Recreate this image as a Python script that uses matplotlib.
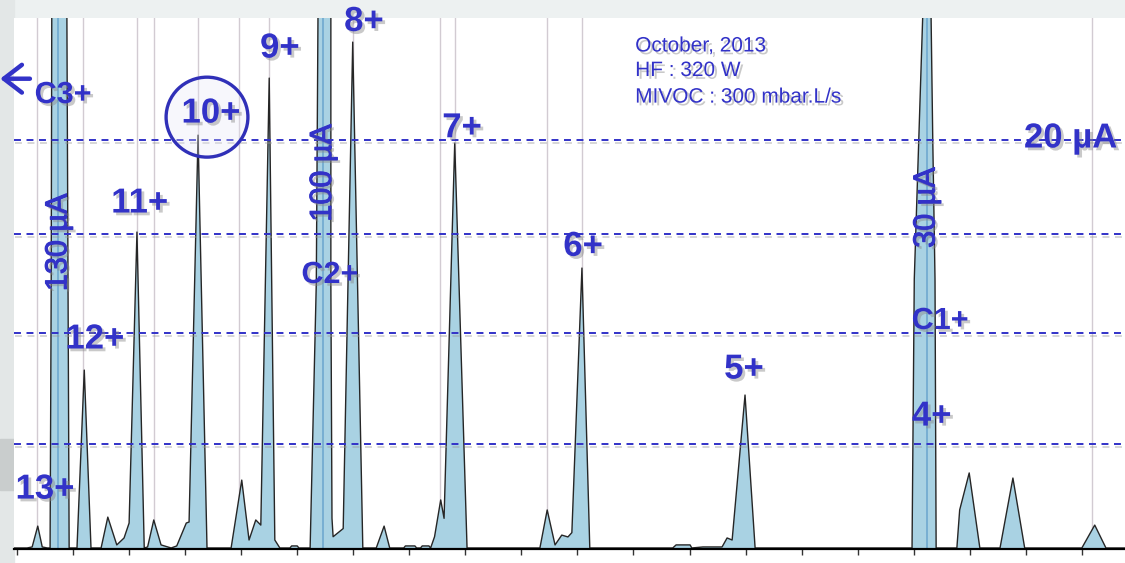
import matplotlib.pyplot as plt
import matplotlib.patches as mpatches
import matplotlib.patheffects as pe
import numpy as np

plt.rcParams['font.family'] = ['Liberation Sans', 'DejaVu Sans']
plt.rcParams['lines.scale_dashes'] = False

#------------- spectre (canal, courant en uA) ---------------------------
trace_x = [-0.5, 1.8, 2.7, 3.7, 4.5, 5.4,
           5.9, 6.1, 6.2, 7.4, 8.9, 9.1, 9.3,            # C3+
           10.7, 12.0, 13.2,                              # 12+
           15.0, 16.2, 17.8, 19.1, 20.0, 21.4, 22.7,      # 11+
           23.3, 24.4, 25.7, 27.5, 28.5, 30.2, 30.7, 32.3, 33.9,   # 10+
           38.2, 40.1, 41.4, 42.6, 43.5, 45.0, 46.0, 46.9,         # 9+
           48.7, 49.0, 50.0, 50.3, 52.3,
           53.4, 53.7, 54.6, 56.0, 56.0, 56.2, 56.4,      # C2+
           57.3, 58.2, 59.9, 61.7,                        # 8+
           64.1, 65.5, 66.5, 69.0, 69.3, 71.0, 71.3, 72.0, 72.3, 73.5,
           73.8, 74.5, 75.6, 76.2, 78.1, 80.3,            # 7+
           93.3, 94.6, 96.0, 97.2, 98.3, 99.0, 100.8, 102.2,       # 6+
           117.0, 117.6, 120.1, 120.4,
           122.4, 125.8, 126.7, 127.6, 129.9, 131.7,      # 5+
           159.7, 160.1, 160.9, 161.6, 162.3, 163.1, 163.4, 163.8, 164.0,  # C1+
           167.7, 168.2, 169.9, 171.8,
           175.4, 177.7, 179.8,
           190.0, 192.3, 194.3, 197.7]
trace_y = [0.05, 0.05, 0.1, 1.12, 0.1, 0.05,
           0.05, 13.0, 26.0, 130.0, 26.0, 13.0, 0.05,
           0.05, 8.75, 0.05,
           0.05, 1.56, 0.2, 0.54, 1.27, 15.5, 0.05,
           0.1, 1.42, 0.2, 0.05, 0.15, 1.27, 1.32, 20.24, 0.05,
           0.05, 3.37, 0.44, 1.42, 1.17, 23.03, 0.44, 0.05,
           0.05, 0.15, 0.15, 0.05, 0.05,
           13.0, 26.0, 100.0, 26.0, 13.0, 1.5, 0.6,
           0.8, 1.0, 24.79, 0.05,
           0.05, 1.12, 0.05, 0.05, 0.15, 0.15, 0.05, 0.05, 0.15, 0.15,
           0.05, 0.6, 2.4, 1.5, 19.85, 0.05,
           0.05, 1.91, 0.2, 0.68, 0.59, 0.8, 13.74, 0.05,
           0.05, 0.2, 0.2, 0.05,
           0.1, 0.1, 0.54, 0.44, 7.53, 0.05,
           0.05, 13.2, 20.0, 26.0, 30.0, 26.0, 20.0, 13.2, 0.05,
           0.05, 1.91, 3.72, 0.05,
           0.05, 3.47, 0.05,
           0.05, 1.17, 0.05, 0.05]

# pics hors echelle (centre, courant)
col_x = [7.4, 54.6, 162.3]
col_lab = ['130 µA', '100 µA', '30 µA']
col_lab_y = [15.0, 18.4, 16.7]

# lignes de repere
marker_x = [3.6, 11.8, 21.4, 24.4, 32.3, 39.6, 45.0, 59.9, 75.5, 78.1, 94.6, 100.8, 191.8]
levels = [20.0, 15.4, 10.56, 5.13]

# etiquettes des etats de charge
lab_txt = ['13+', '12+', '11+', '10+', '9+', '8+', '7+', '6+', '5+', '4+', 'C3+', 'C2+', 'C1+', '20 µA']
lab_x = [5.0, 13.9, 21.9, 34.6, 46.9, 61.9, 79.4, 101.0, 129.7, 163.2, 8.2, 55.8, 164.7, 188.0]
lab_y = [2.93, 10.27, 16.92, 21.32, 24.5, 25.8, 20.6, 14.8, 8.8, 6.5, 22.2, 13.4, 11.15, 20.1]
lab_size = [25, 25, 25, 25, 25, 25, 25, 25, 25, 25, 22, 22, 22, 25]

info = ['October, 2013', 'HF : 320 W', 'MIVOC : 300 mbar.L/s']
info_y = [24.6, 23.4, 22.1]

blue = '#3232c8'
shadow = [pe.SimplePatchShadow(offset=(2, -2), shadow_rgbFace='#888888', alpha=0.45), pe.Normal()]

#---------------------- figure -----------------------------------
fig = plt.figure(figsize=(11.25, 5.63), dpi=100)
fig.patch.set_facecolor('white')
fig.patches.append(mpatches.Rectangle((0, 0.968), 1, 0.032, transform=fig.transFigure, color='#edf1f1', zorder=-5))
fig.patches.append(mpatches.Rectangle((0, 0), 0.0125, 1, transform=fig.transFigure, color='#e3e7e7', zorder=-5))
fig.patches.append(mpatches.Rectangle((0, 0.13), 0.0125, 0.09, transform=fig.transFigure, color='#c9cdcd', zorder=-4))

ax = fig.add_axes([0.01244, 0.02487, 0.98756, 0.9432])
ax.set_xlim(-0.54, 197.7)
ax.set_ylim(0, 25.97)

for xm in marker_x:
    ax.axvline(xm, color='#d2cbd2', lw=1, zorder=1)

ax.fill_between(trace_x, 0, trace_y, color='#a9d2e3', zorder=2, lw=0)
ax.plot(trace_x, trace_y, color='#262626', lw=1.0, zorder=4)
for xc in col_x:
    ax.axvline(xc, color='#6fa8cf', lw=1.2, zorder=3)

for lv in levels:
    ax.axhline(lv, color=blue, lw=1.4, ls=(0, (5, 4)), zorder=5,
               path_effects=[pe.SimpleLineShadow(offset=(1, -2), shadow_color='#999999', alpha=0.4), pe.Normal()])

for t, x, y, s in zip(lab_txt, lab_x, lab_y, lab_size):
    ax.text(x, y, t, color=blue, fontsize=s, fontweight='bold', ha='center', va='center',
            zorder=8, clip_on=False, path_effects=shadow)

for t, x, y in zip(col_lab, col_x, col_lab_y):
    ax.text(x, y, t, color=blue, fontsize=22, rotation=90, ha='center', va='center',
            zorder=8, path_effects=[pe.Stroke(linewidth=0.8, foreground=blue)] + shadow)

for t, y in zip(info, info_y):
    ax.text(110.3, y, t, color=blue, fontsize=15, ha='left', va='center', zorder=8, path_effects=shadow)

# cercle autour du 10+
circ = mpatches.Ellipse((33.9, 21.12), 14.6, 3.91, facecolor=(0.9, 0.9, 0.97, 0.3), edgecolor='#3030b8',
                        lw=2.4, zorder=7)
ax.add_patch(circ)

# fleche a gauche
ax.annotate('', xy=(-3.0, 23.0), xytext=(2.3, 23.0), annotation_clip=False,
            arrowprops=dict(arrowstyle='->, head_length=1.3, head_width=1.0', color=blue, lw=3.2,
                            shrinkA=0, shrinkB=0))

#------------------ axes -----------------------------------------
for s in ['left', 'top', 'right']:
    ax.spines[s].set_visible(False)
ax.spines['bottom'].set_linewidth(1.6)
ax.spines['bottom'].set_zorder(6)
ax.set_xticks(np.arange(0, 200, 10))
ax.set_xticklabels([])
ax.set_yticks([])
ax.tick_params(axis='x', direction='out', length=4, width=1, color='#333333')

plt.savefig('out.png', dpi=100)
